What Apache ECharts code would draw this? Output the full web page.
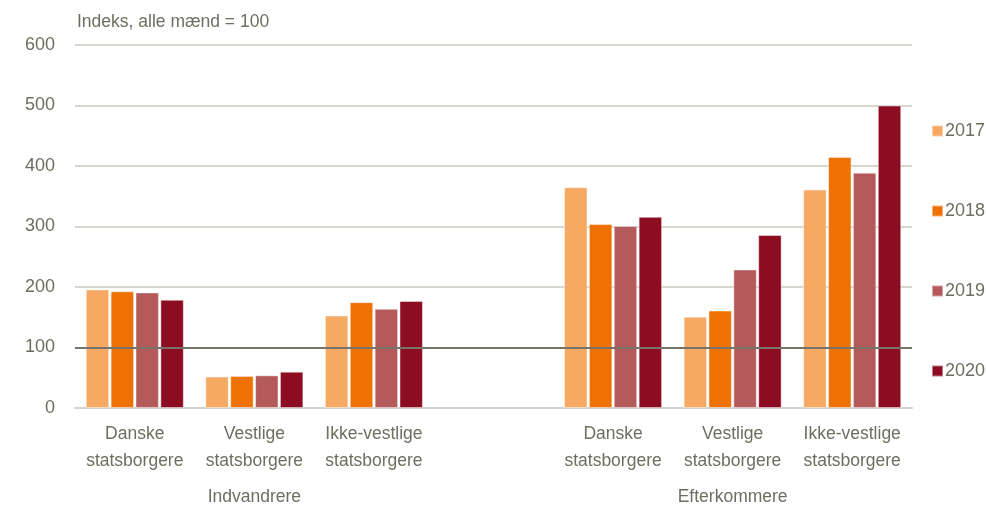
<!DOCTYPE html>
<html>
<head>
<meta charset="utf-8">
<script src="https://cdn.jsdelivr.net/npm/echarts@6/dist/echarts.min.js"></script>
<style>html,body{margin:0;padding:0;background:#fff}#c{width:986px;height:517px}</style>
</head>
<body>
<div id="c"></div>
<script>
const categories = ['Danske\nstatsborgere','Vestlige\nstatsborgere','Ikke-vestlige\nstatsborgere','','Danske\nstatsborgere','Vestlige\nstatsborgere','Ikke-vestlige\nstatsborgere'];
const groupLabels = ['','Indvandrere','','','','Efterkommere',''];
const years = ['2017','2018','2019','2020'];
const v2017 = [196, 52, 153, '-', 365, 151, 361];
const v2018 = [193, 53, 175, '-', 304, 161, 415];
const v2019 = [191, 54, 164, '-', 301, 229, 389];
const v2020 = [179, 60, 177, '-', 316, 286, 500];
const yTicks = [0, 100, 200, 300, 400, 500, 600];
const refValue = 100;
const unitLabel = 'Indeks, alle mænd = 100';

const colors = ['#F5A962','#EE7203','#B55A5A','#8C0C22'];
const txt = '#6E6E60';
const font = 'Liberation Sans';
const seriesData = [v2017, v2018, v2019, v2020];

const chart = echarts.init(document.getElementById('c'), null, {renderer:'canvas'});
chart.setOption({
  animation: false,
  color: colors,
  title: {text: unitLabel, left: 72, top: 8, textStyle: {fontFamily: font, fontSize: 17.5, fontWeight: 'normal', color: txt}},
  grid: {left: 75, right: 74, top: 45, bottom: 109, containLabel: false},
  legend: {
    data: years, orient: 'vertical', left: 926, top: 117, itemWidth: 11, itemHeight: 11, itemGap: 62,
    icon: 'rect', textStyle: {fontFamily: font, fontSize: 18, color: txt, padding: [0,0,0,-3]}
  },
  xAxis: [
    {type: 'category', data: categories, axisTick: {show: false},
     axisLine: {lineStyle: {color: '#D3D3CA', width: 2}},
     axisLabel: {fontFamily: font, fontSize: 17.5, color: txt, margin: 13, lineHeight: 27, interval: 0}},
    {type: 'category', data: groupLabels, position: 'bottom', offset: 80, axisTick: {show: false},
     axisLine: {show: false}, axisLabel: {fontFamily: font, fontSize: 17.5, color: txt, interval: 0, margin: 0}}
  ],
  yAxis: {type: 'value', min: yTicks[0], max: yTicks[yTicks.length-1], interval: 100,
    axisLine: {show: false}, axisTick: {show: false},
    axisLabel: {fontFamily: font, fontSize: 18, color: txt, margin: 20},
    splitLine: {lineStyle: {color: '#C9C9BD', width: 1.5}}},
  series: seriesData.map((d, i) => ({
    name: years[i], type: 'bar', data: d, barGap: '6%', barCategoryGap: '18%',
    itemStyle: {borderColor: 'rgba(255,255,255,0.45)', borderWidth: 1},
    markLine: i === 0 ? {silent: true, symbol: 'none', label: {show: false},
      lineStyle: {color: '#77736A', width: 2, type: 'solid'}, data: [{yAxis: refValue}]} : undefined
  }))
});
</script>
</body>
</html>
